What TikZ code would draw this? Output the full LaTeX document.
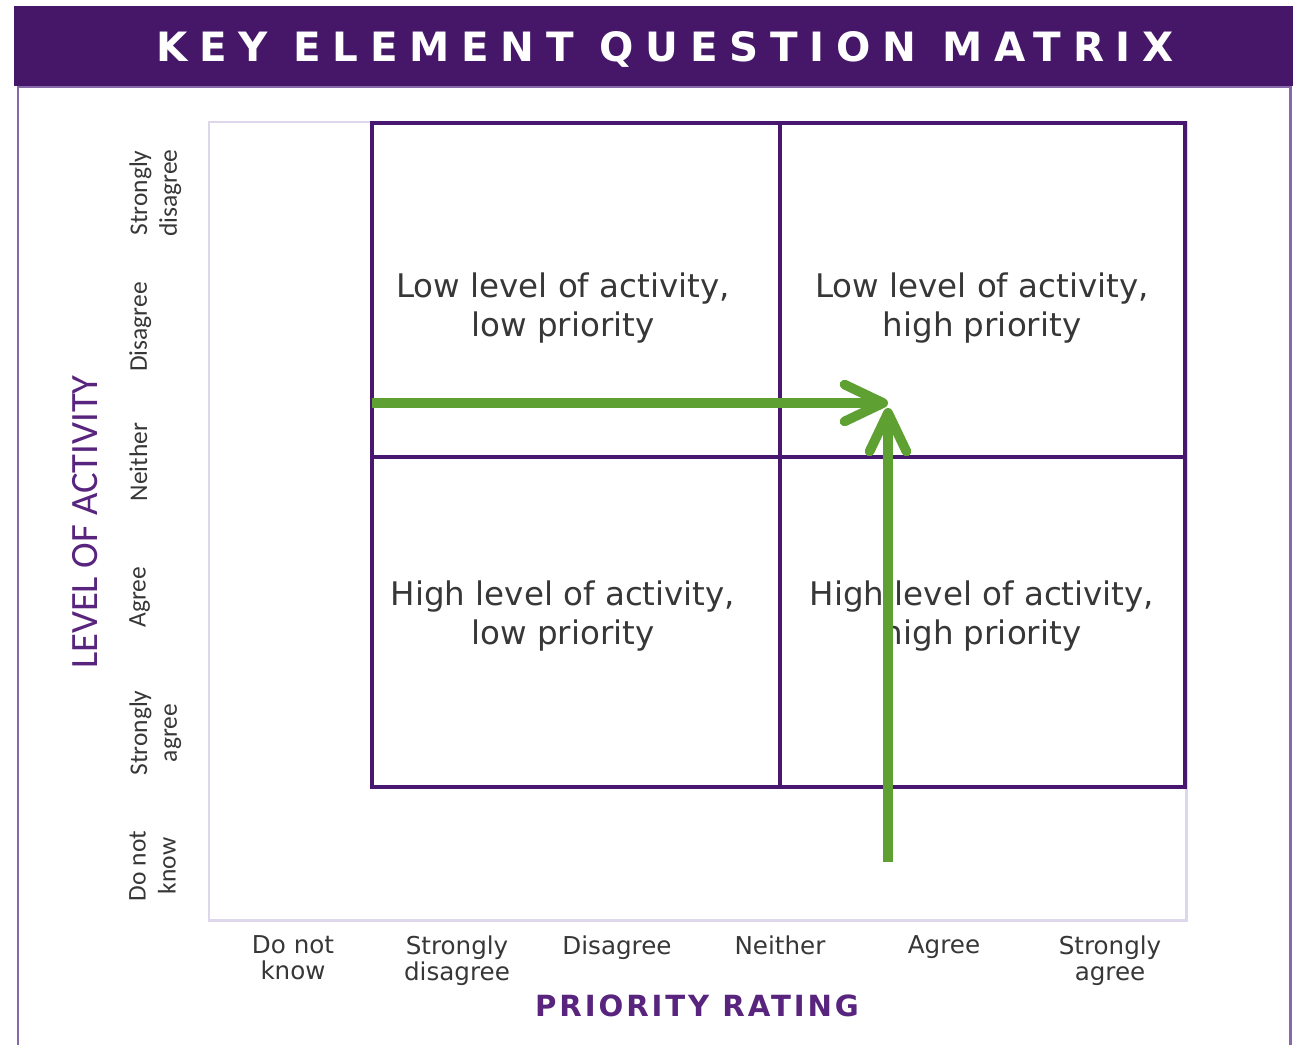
\documentclass[tikz,border=0pt]{standalone}
\usepackage{fontspec}
\setmainfont{DejaVu Sans}
\newfontfamily\narrowfont{Carlito}
\newfontfamily\titlefont[LetterSpace=29]{DejaVu Sans}
\newfontfamily\axisfont[LetterSpace=10]{DejaVu Sans}
\usetikzlibrary{arrows.meta}
\definecolor{hdrpurple}{RGB}{70,23,105}
\definecolor{framepurple}{RGB}{135,105,170}
\definecolor{gridpurple}{RGB}{72,24,112}
\definecolor{palelilac}{RGB}{222,215,236}
\definecolor{arrowgreen}{RGB}{94,160,50}
\definecolor{labelgray}{RGB}{55,55,55}
\definecolor{axispurple}{RGB}{88,36,125}
\begin{document}
\begin{tikzpicture}[x=0.02cm,y=-0.02cm,
    cell/.style={align=center,text=labelgray,font=\fontsize{18.5}{22.7}\selectfont},
    xtick/.style={anchor=north,align=center,inner sep=0pt,text=labelgray,font=\fontsize{14}{14.8}\selectfont},
    ytick/.style={rotate=90,anchor=north,align=center,inner sep=0pt,text=labelgray,font=\narrowfont\fontsize{14.5}{17}\selectfont},
    pointer/.style={arrowgreen,line width=5.5pt,-{Straight Barb[length=22pt,width=21pt,line cap=round,line join=round]}}]
    \useasboundingbox (0,0) rectangle (1293,1044);

    % header and frame
    \fill[hdrpurple] (14,6) rectangle (1293,86);
    \node[text=white,font=\titlefont\bfseries\fontsize{23}{25}\selectfont] (title) at (665,49) {KEY ELEMENT QUESTION MATRIX};
    \draw[framepurple,line width=1.7pt] (18,1050) -- (18,87) -- (1290,87) -- (1290,1050);

    % plot area and matrix
    \draw[palelilac,line width=1.7pt] (209,122) rectangle (1186,920);
    \draw[gridpurple,line width=2pt] (372,123) rectangle (1185,787);
    \draw[gridpurple,line width=2pt] (780,123) -- (780,787);
    \draw[gridpurple,line width=2pt] (372,457) -- (1185,457);

    \node[cell] (lowlow) at (563,308) {Low level of activity,\\low priority};
    \node[cell] (lowhigh) at (982,308) {Low level of activity,\\high priority};
    \node[cell] (highlow) at (563,616) {High level of activity,\\low priority};
    \node[cell] (highhigh) at (982,616) {High level of activity,\\high priority};

    % priority ticks
    \node[xtick] (pdontknow) at (293,935) {Do not\\know};
    \node[xtick] (pstrongdis) at (457,935) {Strongly\\disagree};
    \node[xtick] (pdis) at (617,935) {Disagree};
    \node[xtick] (pneither) at (780,935) {Neither};
    \node[xtick] (pagree) at (944,935) {Agree};
    \node[xtick] (pstrongag) at (1110,935) {Strongly\\agree};
    \node[text=axispurple,font=\axisfont\bfseries\fontsize{16.6}{18}\selectfont] (priorityaxis) at (697,1006) {PRIORITY RATING};

    % activity ticks
    \node[ytick] (astrongdis) at (129,193) {Strongly\\disagree};
    \node[ytick] (adis) at (129,327) {Disagree};
    \node[ytick] (aneither) at (129,462) {Neither};
    \node[ytick] (aagree) at (129,597) {Agree};
    \node[ytick] (astrongag) at (129,733) {Strongly\\agree};
    \node[ytick] (adontknow) at (129,866) {Do not\\know};
    \node[rotate=90,text=axispurple,font=\narrowfont\fontsize{22}{24}\selectfont] (activityaxis) at (85,522) {LEVEL OF ACTIVITY};

    % green arrows
    \coordinate (hstart) at (372,403);
    \coordinate (htip) at (888,403);
    \coordinate (vstart) at (888,862);
    \coordinate (vtip) at (888,408);
    \draw[pointer] (hstart) -- (htip);
    \draw[pointer] (vstart) -- (vtip);
\end{tikzpicture}
\end{document}
